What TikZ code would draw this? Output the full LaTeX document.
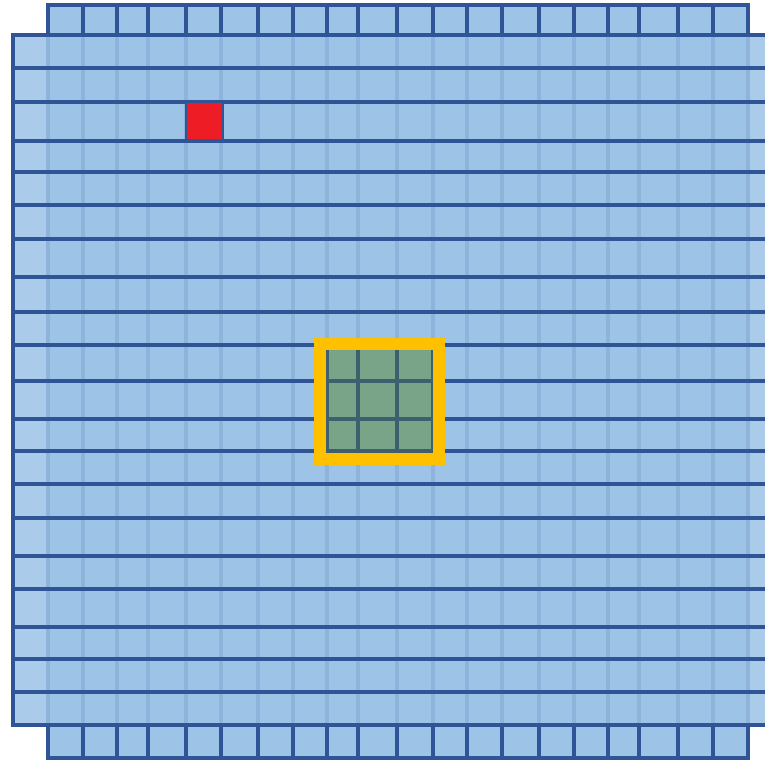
\documentclass[tikz,border=0pt]{standalone}
\definecolor{cellblue}{HTML}{9DC3E6}
\definecolor{edgeblue}{HTML}{2F5597}
\definecolor{hitred}{HTML}{EE1C24}
\definecolor{patchgreen}{HTML}{7AA488}
\definecolor{patchedge}{HTML}{3E5F6E}
\definecolor{frameyellow}{HTML}{FFC000}
\begin{document}
\begin{tikzpicture}[x=1pt,y=-1pt]
\useasboundingbox (0,0) rectangle (765,760);
\clip (0,0) rectangle (765,760);
% column strips
\foreach \xa/\xb in {48/83,83/117,117/148,148/186,186/221,221/258,258/293,293/327,327/358,358/397,
                     397/433,433/467,467/502,502/539,539/574,574/608,608/639,639/678,678/713,713/748}
  \draw[edgeblue,line width=3.8pt,fill=cellblue] (\xa,5) rectangle (\xb,758);
% row strips on top
\foreach \ya/\yb in {35/68,68/102,102/141,141/172,172/205,205/239,239/277,277/312,312/345,345/381,
                     381/419,419/451,451/484,484/518,518/556,556/589,589/627,627/659,659/692,692/725}
  \draw[edgeblue,line width=3.6pt,fill=cellblue,fill opacity=0.87] (13,\ya) rectangle (790,\yb);
% single hit
\draw[edgeblue,line width=2.5pt,fill=hitred] (186,102) rectangle (223,140);
% 3x3 patch
\foreach \xa/\xb in {327/358,358/397,397/433}
  \foreach \ya/\yb in {345/381,381/419,419/451}
    \draw[patchedge,line width=3.6pt,fill=patchgreen] (\xa,\ya) rectangle (\xb,\yb);
\draw[frameyellow,line width=12pt] (320,344) rectangle (439,459);
\end{tikzpicture}
\end{document}
